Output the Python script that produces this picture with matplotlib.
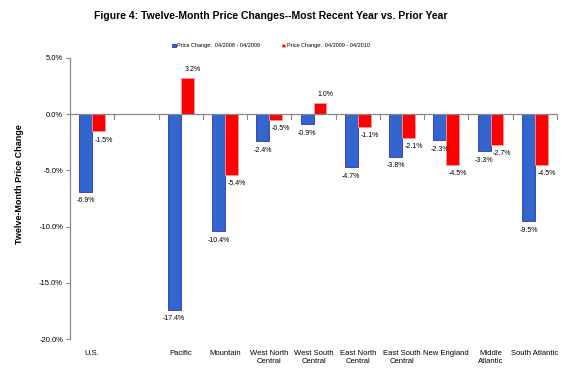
import matplotlib
matplotlib.use("Agg")
import matplotlib.pyplot as plt
import numpy as np
from matplotlib.ticker import FuncFormatter

categories = ["U.S.", "", "Pacific", "Mountain", "West North\nCentral", "West South\nCentral",
              "East North\nCentral", "East South\nCentral", "New England", "Middle\nAtlantic",
              "South Atlantic"]
series_names = ["Price Change:  04/2008 - 04/2009", "Price Change:  04/2009 - 04/2010"]
prior_year = [-6.9, np.nan, -17.4, -10.4, -2.4, -0.9, -4.7, -3.8, -2.3, -3.3, -9.5]
recent_year = [-1.5, np.nan, 3.2, -5.4, -0.5, 1.0, -1.1, -2.1, -4.5, -2.7, -4.5]
yticks = [5, 0, -5, -10, -15, -20]

plt.rcParams['font.family'] = ['Liberation Sans', 'DejaVu Sans']

fig = plt.figure(figsize=(5.8, 3.79), dpi=100)
ax = fig.add_axes([70/580, 1-339/379, (557-70)/580, (339-58)/379])

x = np.arange(len(categories))
w = 0.29
b1 = ax.bar(x - w/2, prior_year, w, color="#3366CC", edgecolor="#3333BB", linewidth=0.6,
            label=series_names[0], zorder=2)
b2 = ax.bar(x + w/2, recent_year, w, color="#FF0000", edgecolor="#FF9999", linewidth=0.6,
            label=series_names[1], zorder=2)

def add_labels(bars, vals, dx):
    for rect, v in zip(bars, vals):
        if np.isnan(v):
            continue
        xc = rect.get_x() + rect.get_width()/2
        dy = 6 if v >= 0 else -6.5
        ax.annotate(f"{v:.1f}%", (xc, v), xytext=(dx, dy), textcoords="offset points",
                    ha="center", va="center", fontsize=5)

add_labels(b1, prior_year, 0)
add_labels(b2, recent_year, 3.8)

ax.set_xlim(-0.5, len(categories) - 0.5)
ax.set_ylim(-20, 5)
ax.set_yticks(yticks)
ax.yaxis.set_major_formatter(FuncFormatter(lambda v, p: f"{v:.1f}%"))
ax.tick_params(axis='y', labelsize=5.5, length=3, width=0.8, color="#888888", pad=2)

ax.set_xticks(x)
ax.set_xticklabels(categories, fontsize=5.5)
ax.tick_params(axis='x', length=0, pad=8)

for s in ["top", "right", "bottom"]:
    ax.spines[s].set_visible(False)
ax.spines["left"].set_color("#888888")
ax.spines["left"].set_linewidth(0.9)

ax.axhline(0, color="#888888", linewidth=0.9, zorder=3)
for xb in np.arange(0.5, len(categories), 1.0):
    ax.plot([xb, xb], [0, -0.4], color="#888888", linewidth=0.8, zorder=3, clip_on=False)

ax.set_ylabel("Twelve-Month Price Change", fontsize=6.5, fontweight="bold", labelpad=10)
ax.yaxis.set_label_coords(-0.095, 0.55)

fig.text(0.466, 1-16/379, "Figure 4: Twelve-Month Price Changes--Most Recent Year vs. Prior Year",
         ha="center", va="center", fontsize=7.5, fontweight="bold")

fig.legend(handles=[b1, b2], labels=series_names, loc="center", bbox_to_anchor=(271/580, 1-46/379),
           ncol=2, frameon=False, fontsize=4, handlelength=0.6, handleheight=0.6,
           handletextpad=0.2, columnspacing=4)

fig.savefig("out.png", dpi=100)
